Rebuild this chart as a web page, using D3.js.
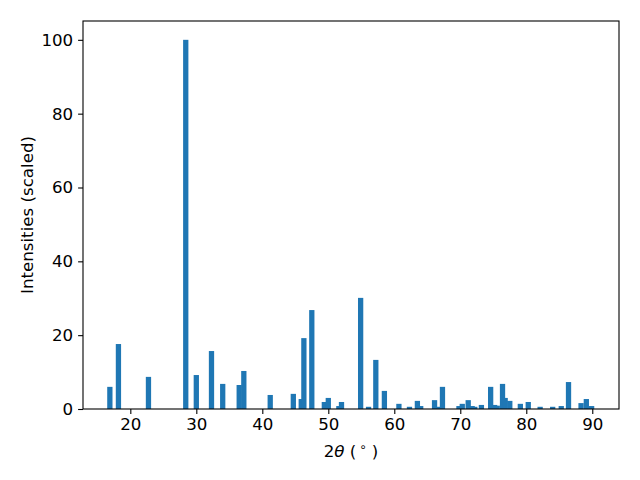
<!DOCTYPE html>
<html>
<head>
<meta charset="utf-8">
<script src="https://cdn.jsdelivr.net/npm/d3@7"></script>
<style>
  body { margin: 0; background: #fff; }
  text { font-family: "DejaVu Sans", sans-serif; }
</style>
</head>
<body>
<div id="chart"></div>
<script>
// Peak positions (2 theta, degrees) and scaled intensities
const positions = [16.9, 18.2, 22.75, 28.4, 30.0, 32.3, 34.0, 36.5, 37.2, 41.2,
  44.7, 45.9, 46.3, 47.5, 49.4, 50.0, 51.6, 52.0, 54.9, 56.1,
  57.2, 58.5, 60.7, 62.3, 63.5, 64.0, 66.1, 66.8, 67.3, 69.8,
  70.3, 71.2, 71.8, 72.2, 73.2, 74.6, 75.2, 75.6, 76.4, 76.8,
  77.5, 79.1, 80.3, 82.1, 84.0, 85.3, 86.4, 88.3, 89.1, 89.9];
const intensities = [6.0, 17.6, 8.7, 100, 9.2, 15.7, 6.8, 6.5, 10.3, 3.8,
  4.1, 2.7, 19.2, 26.8, 1.9, 3.0, 0.8, 1.9, 30.1, 0.6,
  13.3, 4.9, 1.4, 0.6, 2.2, 0.8, 2.4, 0.6, 6.0, 0.8,
  1.4, 2.4, 0.8, 0.6, 1.1, 6.0, 1.1, 0.9, 6.8, 3.0,
  2.2, 1.4, 1.9, 0.6, 0.6, 0.8, 7.3, 1.6, 2.7, 0.8];
const xTicks = [20, 30, 40, 50, 60, 70, 80, 90];
const yTicks = [0, 20, 40, 60, 80, 100];
const barWidth = 0.8;

const data = positions.map((p, i) => ({pos: p, val: intensities[i]}));

const width = 640, height = 480;
const margin = {top: 21, right: 21, bottom: 71, left: 83};
const innerW = width - margin.left - margin.right;
const innerH = height - margin.top - margin.bottom;
const fs = '16.67px';

const svg = d3.select('#chart')
  .append('svg')
    .attr('width', width)
    .attr('height', height);

const g = svg.append('g')
  .attr('transform', 'translate(' + margin.left + ',' + margin.top + ')');

// Scales
const x = d3.scaleLinear().domain([12.83, 94.05]).range([0, innerW]);
const y = d3.scaleLinear().domain([0, 105.1]).range([innerH, 0]);

// Bars
g.selectAll('rect.bar')
  .data(data)
  .enter().append('rect')
    .attr('class', 'bar')
    .attr('x', d => x(d.pos - barWidth / 2))
    .attr('width', d => x(d.pos + barWidth / 2) - x(d.pos - barWidth / 2))
    .attr('y', d => y(d.val))
    .attr('height', d => y(0) - y(d.val))
    .attr('fill', '#1f77b4');

// Axes
const xAxis = g.append('g')
  .attr('transform', 'translate(0,' + innerH + ')')
  .call(d3.axisBottom(x).tickValues(xTicks).tickSize(4.9).tickPadding(4.5));
const yAxis = g.append('g')
  .call(d3.axisLeft(y).tickValues(yTicks).tickSize(4.9).tickPadding(4.9));

[xAxis, yAxis].forEach(a => {
  a.select('.domain').remove();
  a.selectAll('line').attr('stroke', '#000').attr('stroke-width', 1.1);
  a.selectAll('text').attr('fill', '#000').style('font-size', fs);
});

// Frame
g.append('rect')
  .attr('width', innerW)
  .attr('height', innerH)
  .attr('fill', 'none')
  .attr('stroke', '#000')
  .attr('stroke-width', 1.1);

// Labels
const xl = svg.append('text')
  .attr('x', margin.left + innerW / 2)
  .attr('y', 457)
  .attr('text-anchor', 'middle')
  .style('font-size', fs);
xl.append('tspan').text('2');
xl.append('tspan').attr('font-style', 'italic').text('θ');
xl.append('tspan').text(' (');
xl.append('tspan').attr('dx', 3).attr('dy', -6).style('font-size', '11.7px').text('∘');
xl.append('tspan').attr('dy', 6).text(' )');

svg.append('text')
  .attr('transform', 'translate(33,' + (margin.top + innerH / 2) + ') rotate(-90)')
  .attr('text-anchor', 'middle')
  .style('font-size', fs)
  .text('Intensities (scaled)');
</script>
</body>
</html>
